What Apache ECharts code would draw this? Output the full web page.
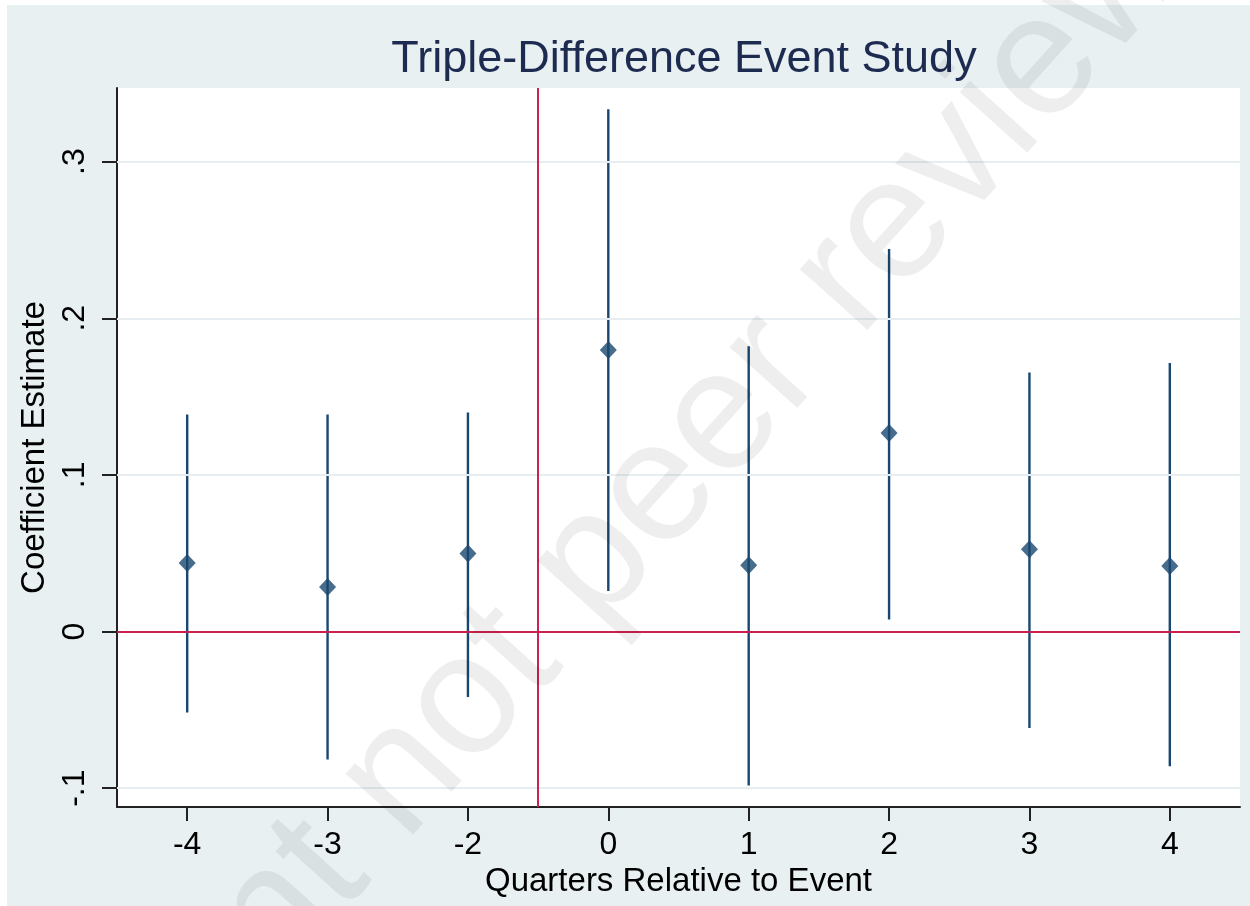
<!DOCTYPE html>
<html>
<head>
<meta charset="utf-8">
<script src="https://cdn.jsdelivr.net/npm/echarts@6/dist/echarts.min.js"></script>
<style>
  html, body { margin: 0; padding: 0; background: #ffffff; }
  #chart { width: 1250px; height: 906px; }
</style>
</head>
<body>
<div id="chart"></div>
<script>
// ---- data ----
const quarters = ['-4', '-3', '-2', '0', '1', '2', '3', '4'];
const coef   = [0.0438, 0.0285, 0.0498, 0.1797, 0.0423, 0.1268, 0.0526, 0.0419];
const ciLow  = [-0.0517, -0.0817, -0.0418, 0.0259, -0.0982, 0.0077, -0.0616, -0.0860];
const ciHigh = [0.1386, 0.1386, 0.1399, 0.3334, 0.1822, 0.2442, 0.1654, 0.1715];
const yTickValues = [-0.1, 0, 0.1, 0.2, 0.3];
const yTickLabels = ['-.1', '0', '.1', '.2', '.3'];
const gridValues = [-0.1, 0.1, 0.2, 0.3];
const titleText = 'Triple-Difference Event Study';
const xTitle = 'Quarters Relative to Event';
const yTitle = 'Coefficient Estimate';
const watermark = 'Preprint not peer reviewed';

// ---- build ----
const idx = quarters.map((q, i) => i);
const pointData = idx.map(i => [i, coef[i]]);
const ciData = idx.map(i => [i, ciLow[i], ciHigh[i]]);
const eventX = (quarters.indexOf('-2') + quarters.indexOf('0')) / 2;

const FONT = '"Liberation Sans", Arial, sans-serif';
const NAVY = '#1a476f';
const RED = '#cc2150';

const chart = echarts.init(document.getElementById('chart'), null, { renderer: 'canvas' });

chart.setOption({
  animation: false,
  backgroundColor: '#ffffff',
  textStyle: { fontFamily: FONT },
  title: {
    text: titleText,
    left: 679,
    textAlign: 'center',
    top: 32,
    textStyle: { fontFamily: FONT, fontSize: 45, fontWeight: 'normal', color: '#1e2b50' }
  },
  graphic: [
    {
      type: 'rect', z: -10, silent: true,
      shape: { x: 7, y: 5, width: 1243, height: 901 },
      style: { fill: '#e8f0f2' }
    },
    {
      type: 'text', z: 100, silent: true,
      x: 610, y: 545,
      rotation: 48 * Math.PI / 180,
      style: {
        text: watermark,
        fontFamily: FONT, fontSize: 172,
        fill: 'rgba(0,0,0,0.065)',
        align: 'center', verticalAlign: 'middle'
      }
    }
  ],
  grid: {
    left: 117, right: 10, top: 88, bottom: 99,
    show: true, backgroundColor: '#ffffff', borderWidth: 0
  },
  xAxis: {
    type: 'value',
    min: -0.5, max: quarters.length - 0.5,
    name: xTitle,
    nameLocation: 'middle',
    nameGap: 45,
    nameTextStyle: { fontFamily: FONT, fontSize: 33, color: '#000' },
    axisLine: { show: true, onZero: false, lineStyle: { color: '#222', width: 2 } },
    axisTick: { show: true, length: 14, customValues: idx, lineStyle: { color: '#222', width: 2 } },
    axisLabel: {
      customValues: idx,
      formatter: v => quarters[Math.round(v)],
      fontFamily: FONT, fontSize: 32, color: '#000', margin: 22
    },
    splitLine: { show: false }
  },
  yAxis: {
    type: 'value',
    min: -0.112, max: 0.347,
    name: yTitle,
    nameLocation: 'middle',
    nameRotate: 90,
    nameGap: 62,
    nameTextStyle: { fontFamily: FONT, fontSize: 33, color: '#000' },
    axisLine: { show: true, onZero: false, lineStyle: { color: '#222', width: 2 } },
    axisTick: { show: true, length: 15, customValues: yTickValues, lineStyle: { color: '#222', width: 2 } },
    axisLabel: {
      customValues: yTickValues,
      rotate: 90,
      formatter: v => {
        const k = yTickValues.findIndex(t => Math.abs(t - v) < 1e-9);
        return k >= 0 ? yTickLabels[k] : '';
      },
      fontFamily: FONT, fontSize: 32, color: '#000', margin: 26
    },
    splitLine: { show: false }
  },
  series: [
    {
      type: 'line', data: [], z: 1, silent: true,
      markLine: {
        silent: true, symbol: 'none', animation: false,
        label: { show: false },
        lineStyle: { color: '#e6eef1', width: 2, type: 'solid' },
        data: gridValues.map(v => ({ yAxis: v }))
      }
    },
    {
      type: 'line', data: [], z: 2, silent: true,
      markLine: {
        silent: true, symbol: 'none', animation: false,
        label: { show: false },
        lineStyle: { color: RED, width: 2, type: 'solid' },
        data: [{ yAxis: 0 }, { xAxis: eventX }]
      }
    },
    {
      type: 'custom', z: 3, silent: true,
      data: ciData,
      renderItem: (params, api) => {
        const x = api.value(0);
        const p1 = api.coord([x, api.value(1)]);
        const p2 = api.coord([x, api.value(2)]);
        return {
          type: 'line',
          shape: { x1: p1[0], y1: p1[1], x2: p2[0], y2: p2[1] },
          style: { stroke: NAVY, lineWidth: 2.4 }
        };
      }
    },
    {
      type: 'scatter', z: 4, silent: true,
      data: pointData,
      symbol: 'diamond',
      symbolSize: [17, 18],
      itemStyle: { color: NAVY }
    }
  ]
});
</script>
</body>
</html>
